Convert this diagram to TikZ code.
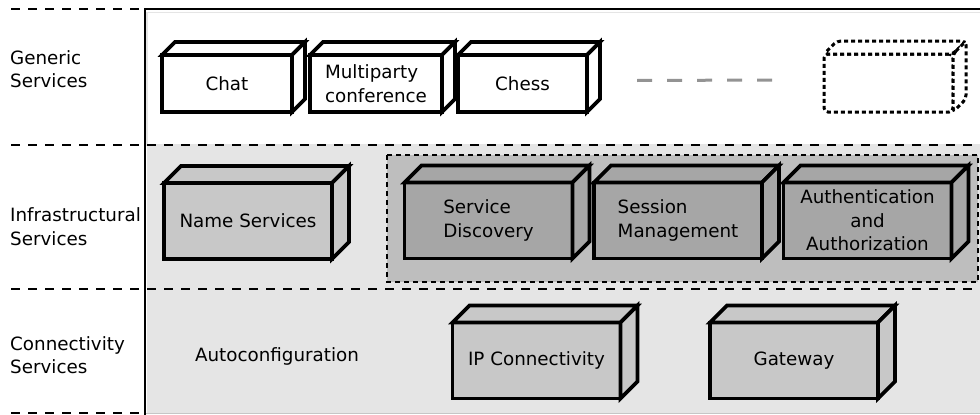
\documentclass[tikz,border=0pt]{standalone}
\usepackage{fontspec}
\setmainfont{DejaVu Sans}
\usetikzlibrary{positioning}
\definecolor{panelgray}{HTML}{E5E5E5}
\definecolor{groupgray}{HTML}{BEBEBE}
\definecolor{infgray}{HTML}{C8C8C8}
\definecolor{coregray}{HTML}{A6A6A6}
\tikzset{
	genface/.style={draw, line width=3.6pt, fill=white},
	infface/.style={draw, line width=3.6pt, fill=infgray},
	coreface/.style={draw, line width=3.6pt, fill=coregray},
	slotface/.style={draw, line width=3pt, dash pattern=on 4pt off 3pt, rounded corners=4pt, fill=white}
}
\tikzset{
	genbox/.style={genface, minimum height=57pt, inner sep=0pt, outer sep=0pt},
	infbox/.style={infface, minimum width=168pt, minimum height=76pt, inner sep=0pt, outer sep=0pt},
	corebox/.style={coreface, minimum width=168pt, minimum height=76pt, inner sep=0pt, outer sep=0pt},
	rowlabel/.style={anchor=west, align=left, inner sep=0pt},
	rowsep/.style={line width=2.5pt, dash pattern=on 9pt off 8pt}
}
% top and right faces of a box node: #1 node, #2 depth, #3 style
\newcommand{\boxfaces}[3]{%
	\draw[#3] (#1.north west) -- ++(#2,-#2) -- ([shift={(#2,-#2)}]#1.north east) -- (#1.north east) -- cycle;
	\draw[#3] (#1.north east) -- ++(#2,-#2) -- ([shift={(#2,-#2)}]#1.south east) -- (#1.south east) -- cycle;
}

\begin{document}
\begin{tikzpicture}[x=1pt, y=-1pt, font=\fontsize{18.3pt}{23.5pt}\selectfont]
      \useasboundingbox (0,0) rectangle (980,415);
      % panels
      \draw[gray!20, line width=1.5pt] (147,12.5) rectangle (982,145);
      \fill[panelgray] (147,145) rectangle (980,413);
      \draw[gray!45, line width=1pt] (145,413.5) -- (980,413.5);
      \draw[fill=groupgray, line width=2.5pt, dash pattern=on 5pt off 4pt] (387,155) rectangle (978,282);
      % row separators
      \draw[rowsep] (11,9) -- (145,9);
      \draw[rowsep] (11,145) -- (980,145);
      \draw[rowsep] (11,289) -- (980,289);
      \draw[rowsep] (11,413) -- (145,413);
      \draw[line width=2.8pt] (145,415) -- (145,9) -- (980,9);
      % row labels
      \node[rowlabel] (generic) at (10,69) {Generic\\Services};
      \node[rowlabel] (infra) at (10,226.5) {Infrastructural\\Services};
      \node[rowlabel] (conn) at (10,355) {Connectivity\\Services};
      % generic services
      \node[genbox, minimum width=130pt] (chat) at (227,83.5) {Chat};
      \boxfaces{chat}{13}{genface}
      \node[genbox, minimum width=132pt, align=left] (party) at (376,83.5) {Multiparty\\conference};
      \boxfaces{party}{13}{genface}
      \node[genbox, minimum width=129pt] (chess) at (522.5,83.5) {Chess};
      \boxfaces{chess}{13}{genface}
      \node[slotface, minimum width=129pt, minimum height=58pt, inner sep=0pt, outer sep=0pt] (slot) at (888.5,83) {};
      \boxfaces{slot}{13}{slotface}
      \draw[gray!85, line width=3pt, dash pattern=on 15pt off 15pt]
        ([xshift=50pt, yshift=3pt]chess.east) -- ([xshift=-51pt, yshift=3pt]slot.west);
      % infrastructural services
      \node[infbox] (names) at (248,221) {Name Services};
      \boxfaces{names}{17}{infface}
      \node[corebox, align=left] (discovery) at (488.5,220.5) {Service\\Discovery};
      \boxfaces{discovery}{17}{coreface}
      \node[corebox, align=left] (session) at (678,220.5) {Session\\Management};
      \boxfaces{session}{17}{coreface}
      \node[corebox, align=center] (auth) at (867.5,220.5) {Authentication\\and\\Authorization};
      \boxfaces{auth}{17}{coreface}
      % connectivity services
      \node (autoconf) at (277,356) {Autoconfiguration};
      \node[infbox] (ip) at (536.5,360.5) {IP Connectivity};
      \boxfaces{ip}{17}{infface}
      \node[infbox] (gateway) at (794,360.5) {Gateway};
      \boxfaces{gateway}{17}{infface}
    \end{tikzpicture}
\end{document}
